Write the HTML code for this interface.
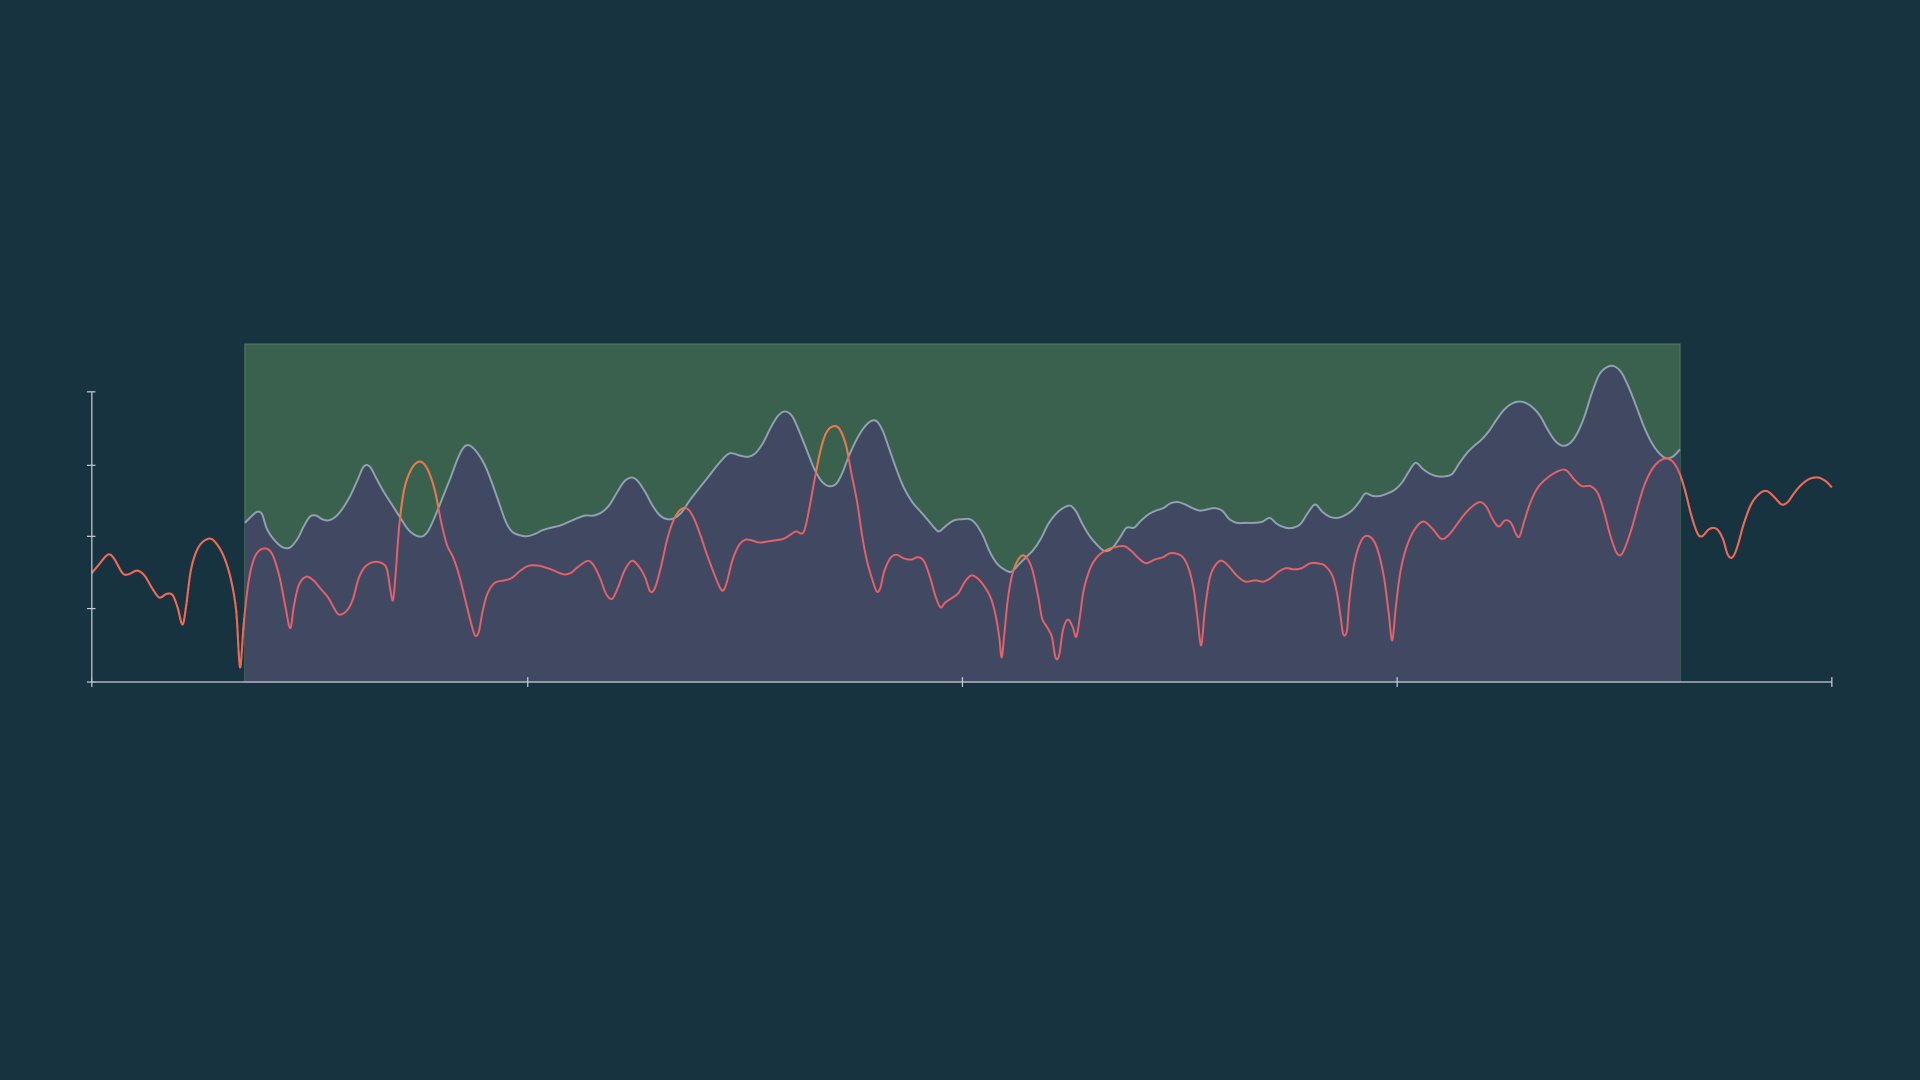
<!DOCTYPE html>
<html><head><meta charset="utf-8"><style>
html,body{margin:0;padding:0;background:#173340;width:1920px;height:1080px;overflow:hidden}
svg{display:block}
</style></head><body>
<svg id="chart" width="1920" height="1080" viewBox="0 0 1568 882" preserveAspectRatio="none" xmlns="http://www.w3.org/2000/svg">
<rect x="0" y="0" width="1568" height="882" fill="#173340"/>
<g id="plot"></g>
</svg>
<script>
// Series data (x in domain units, y in domain units)
const priceX=[75,80,88,93,100,105,112,118,124,130,136,141,145,149,152,156,162,170,176,183,189,193,196,199,203,208,215,222,228,233,237,240,244,250,256,262,268,273,277,283,288,293,298,305,312,316,319,321,323,326,330,336,343,349,355,360,365,370,375,380,385,388,391,394,398,404,412,418,425,432,440,450,460,466,472,480,485,490,495,500,505,510,516,522,527,531,535,540,545,550,556,562,567,572,577,583,588,591,594,598,603,608,613,620,628,635,640,645,650,656,660,665,670,675,681,686,691,695,700,704,708,712,716,719,722,727,732,738,744,750,755,760,764,768,772,778,783,788,793,798,804,809,813,816,818,820,823,827,833,838,843,848,851,855,859,862,865,868,872,876,879,882,885,890,895,902,910,918,924,930,936,943,950,955,960,966,971,975,978,981,984,988,993,998,1004,1010,1017,1025,1032,1038,1044,1050,1057,1063,1070,1076,1082,1088,1092,1095,1097,1100,1102,1106,1112,1118,1124,1130,1134,1137,1140,1144,1150,1157,1163,1170,1177,1183,1190,1196,1203,1209,1214,1219,1224,1229,1234,1238,1241,1245,1250,1256,1264,1272,1279,1286,1292,1299,1305,1310,1315,1320,1324,1328,1333,1338,1343,1350,1358,1365,1371,1376,1381,1386,1390,1396,1402,1407,1411,1415,1419,1424,1430,1437,1443,1449,1455,1460,1465,1471,1478,1485,1491,1496];
const priceY=[468,462,453,456,468,469,466,470,480,488,485,486,496,510,495,465,447,440,443,455,475,500,545,510,475,455,448,452,470,495,513,495,478,471,474,481,488,497,502,499,490,472,463,459,460,465,483,490,470,430,400,383,377,383,400,425,445,455,470,490,510,519,516,500,485,476,474,472,466,462,462,465,469,468,463,458,462,472,485,489,479,466,458,463,472,483,480,462,440,425,416,416,424,437,452,468,480,482,474,458,446,441,441,443,442,441,440,437,434,435,420,393,368,353,348,351,364,385,410,437,458,472,483,480,467,456,453,456,457,455,459,473,487,496,492,488,484,475,470,472,479,488,502,520,537,520,490,468,455,455,465,488,505,512,520,537,535,515,506,512,520,503,482,465,456,450,447,446,450,456,460,457,455,452,452,455,465,482,505,527,498,472,461,458,463,470,475,474,475,472,467,464,465,464,460,460,462,470,485,505,518,515,490,460,441,438,446,470,500,523,495,465,443,430,426,432,440,437,428,420,413,410,414,424,430,425,427,436,438,425,410,398,390,385,384,392,397,397,403,418,437,451,453,445,430,412,396,382,375,376,385,400,420,435,438,432,432,440,453,455,446,428,412,403,401,406,412,410,403,396,391,390,393,398];
const valueX=[200,205,210,214,218,224,231,237,243,248,253,258,263,268,274,280,286,292,297,302,307,313,320,327,333,339,345,350,356,362,368,374,379,384,390,396,402,408,413,418,424,430,437,443,450,458,465,472,478,485,492,498,504,510,516,521,527,533,539,545,551,557,563,570,578,585,592,597,604,611,617,623,629,635,641,647,653,659,665,671,677,683,688,693,699,705,711,716,721,726,732,738,745,752,758,763,767,773,779,786,792,797,803,808,814,820,826,832,838,844,850,856,862,868,874,879,884,890,896,902,908,914,920,926,932,938,944,950,956,962,968,974,980,986,992,998,1004,1010,1017,1024,1031,1037,1043,1050,1056,1062,1068,1074,1080,1086,1092,1098,1104,1110,1115,1121,1127,1133,1139,1145,1150,1156,1162,1168,1174,1180,1186,1192,1198,1204,1210,1216,1222,1228,1234,1240,1246,1252,1258,1264,1270,1276,1282,1288,1294,1300,1306,1312,1318,1324,1330,1336,1342,1348,1354,1360,1366,1372];
const valueY=[427,422,418,420,432,441,447,447,440,430,422,421,424,425,422,415,405,392,381,381,390,401,412,423,432,437,438,433,420,405,390,374,365,364,370,380,395,412,426,434,437,438,436,433,431,429,426,423,421,421,418,412,402,393,390,393,402,413,421,424,423,418,409,400,390,381,373,370,372,373,370,362,350,340,336,340,353,368,383,393,397,395,386,373,360,350,344,344,352,366,383,398,410,418,425,431,434,429,425,424,424,428,438,450,460,465,467,461,455,449,440,428,420,415,413,418,428,438,445,450,448,440,431,431,425,420,417,415,411,410,412,415,417,416,415,417,424,427,427,427,426,423,428,431,431,428,419,412,418,422,423,421,417,410,403,405,405,403,400,394,386,378,383,387,389,389,387,378,370,364,359,352,343,335,330,328,329,333,340,351,360,364,362,354,340,321,306,300,299,304,316,331,347,360,369,374,373,367];
const xTicks=[75,431,786,1141,1496];
const yTicks=[557,497,438,380,320];
const fairRange=[200,1372,281]; // start, end, upper bound

const xDom=[75,1496], xRng=[75,1496], yDom=[557,320], yRng=[557,320];
const sx=v=>xRng[0]+(v-xDom[0])/(xDom[1]-xDom[0])*(xRng[1]-xRng[0]);
const sy=v=>yRng[0]+(v-yDom[0])/(yDom[1]-yDom[0])*(yRng[1]-yRng[0]);
const NS='http://www.w3.org/2000/svg';
const plot=document.getElementById('plot');
function mk(tag,attrs){const e=document.createElementNS(NS,tag);for(const k in attrs)e.setAttribute(k,attrs[k]);plot.appendChild(e);return e;}
function smooth(xs,ys){
  const P=xs.map((x,i)=>[sx(x),sy(ys[i])]);
  let d='M'+P[0][0]+','+P[0][1];
  for(let i=0;i<P.length-1;i++){
    const p0=P[Math.max(0,i-1)],p1=P[i],p2=P[i+1],p3=P[Math.min(P.length-1,i+2)];
    const c1x=p1[0]+(p2[0]-p0[0])/6,c1y=p1[1]+(p2[1]-p0[1])/6;
    const c2x=p2[0]-(p3[0]-p1[0])/6,c2y=p2[1]-(p3[1]-p1[1])/6;
    d+=' C'+c1x+','+c1y+' '+c2x+','+c2y+' '+p2[0]+','+p2[1];
  }
  return d;
}
const base=sy(yDom[0]);
const box=mk('rect',{x:sx(fairRange[0]),y:sy(fairRange[2]),width:sx(fairRange[1])-sx(fairRange[0]),height:base-sy(fairRange[2]),fill:'#3a614e',stroke:'#4c7560','stroke-width':1});


const vPath=smooth(valueX,valueY);
const area=mk('path',{d:vPath+' L'+sx(valueX[valueX.length-1])+','+base+' L'+sx(valueX[0])+','+base+' Z',fill:'#414962'});


const defs=mk('defs',{});
const cp=document.createElementNS(NS,'clipPath');cp.setAttribute('id','above');defs.appendChild(cp);
const cpp=document.createElementNS(NS,'path');cpp.setAttribute('d',vPath+' L'+sx(valueX[valueX.length-1])+',0 L'+sx(valueX[0])+',0 Z');cp.appendChild(cpp);
const cp2=document.createElementNS(NS,'clipPath');cp2.setAttribute('id','outL');defs.appendChild(cp2);
[[0,sx(fairRange[0])],[sx(fairRange[1]),1568]].forEach(r=>{const rr=document.createElementNS(NS,'rect');rr.setAttribute('x',r[0]);rr.setAttribute('y',0);rr.setAttribute('width',r[1]-r[0]);rr.setAttribute('height',882);cp2.appendChild(rr);});
const vl=mk('path',{d:vPath,fill:'none',stroke:'#8ea2b0','stroke-width':1.6});


const pPath=smooth(priceX,priceY);
const pl=mk('path',{d:pPath,fill:'none',stroke:'#e4616a','stroke-width':1.6});


const po=mk('path',{d:pPath,fill:'none',stroke:'#e57a4c','stroke-width':1.6,'clip-path':'url(#above)'});


const pl1=mk('path',{d:pPath,fill:'none',stroke:'#ee6a56','stroke-width':1.6,'clip-path':'url(#outL)'});


const ya=mk('line',{x1:sx(xDom[0]),y1:sy(yTicks[yTicks.length-1]),x2:sx(xDom[0]),y2:base,stroke:'#c8ccd4','stroke-width':1});


const xa=mk('line',{x1:sx(xDom[0]),y1:base,x2:sx(xDom[1]),y2:base,stroke:'#c8ccd4','stroke-width':1});


yTicks.forEach(t=>{const l=mk('line',{x1:sx(xDom[0])-4,y1:sy(t),x2:sx(xDom[0])+3,y2:sy(t),stroke:'#c8ccd4','stroke-width':1});

});
xTicks.forEach(t=>{const l=mk('line',{x1:sx(t),y1:base-4,x2:sx(t),y2:base+4,stroke:'#c8ccd4','stroke-width':1});

});
</script>
</body></html>
